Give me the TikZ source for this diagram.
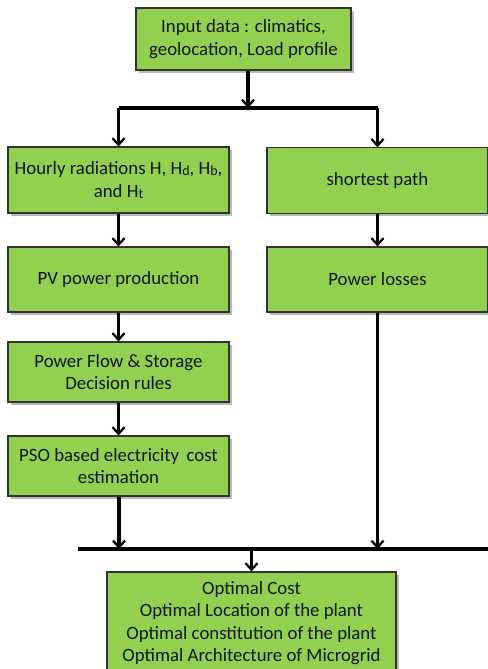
\documentclass[tikz,border=0pt]{standalone}
\usepackage{fontspec}
\setmainfont{Carlito}
\usetikzlibrary{arrows.meta,shadows}
\definecolor{boxgreen}{HTML}{92D050}
\newcommand{\sbs}[1]{\raisebox{-0.7pt}{\fontsize{10.5}{10.5}\selectfont #1}}
\begin{document}
\begin{tikzpicture}[x=0.75pt,y=-0.75pt,
  box/.style={draw=black!80, line width=0.8pt, fill=boxgreen,
    drop shadow={shadow xshift=2pt,shadow yshift=-2pt,fill=black!50,opacity=0.55},
    align=center, inner sep=0pt, text=black!92,
    font=\fontsize{14.1}{16.8}\selectfont},
  conn/.style={line width=2.3pt, -{Straight Barb[length=5pt,width=9pt,line width=1.7pt]}},
  bar/.style={line width=2.3pt}]
\useasboundingbox (0,0) rectangle (488,669);
\clip (0,0) rectangle (488,669);

\node[box, minimum width=161.25pt, minimum height=46.5pt] (top) at (243.5,39)
  {Input data : climatics,\\ geolocation, Load profile};
\node[box, minimum width=165.75pt, minimum height=49.5pt] (hr) at (118.5,180)
  {Hourly radiations H, H\sbs{d}, H\sbs{b},\\ and H\sbs{t}};
\node[box, minimum width=165.75pt, minimum height=49pt] (sp) at (377.5,180.5)
  {shortest path};
\node[box, minimum width=165.75pt, minimum height=48.75pt] (pv) at (118.5,279.5)
  {PV power production};
\node[box, minimum width=165.75pt, minimum height=48.75pt] (pl) at (377.5,279.5)
  {Power losses};
\node[box, minimum width=165.75pt, minimum height=45pt] (pf) at (118.5,372)
  {Power Flow \& Storage\\ Decision rules};
\node[box, minimum width=165.75pt, minimum height=45pt] (pso) at (118.5,466)
  {PSO based electricity\, cost\\ estimation};
\node[box, minimum width=216.75pt, minimum height=76.5pt] (fin) at (251.5,623)
  {Optimal Cost\\ Optimal Location of the plant\\ Optimal constitution of the plant\\ Optimal Architecture of Microgrid};

\coordinate (jt) at (248,108);
\coordinate (bl) at (118.5,108);
\coordinate (br) at (377.5,108);
\coordinate (b2l) at (78,549);
\coordinate (b2r) at (488,549);
\coordinate (jl) at (119,549);
\coordinate (jr) at (377.5,549);
\coordinate (jf) at (251.5,549);

\draw[conn] (top.south -| jt) -- (jt);
\draw[bar] (bl) -- (br);
\draw[conn] (bl) -- (hr.north);
\draw[conn] (br) -- (sp.north);
\draw[conn] (hr) -- (pv);
\draw[conn] (sp) -- (pl);
\draw[conn] (pv) -- (pf);
\draw[conn] (pf) -- (pso);
\draw[conn] (pso.south -| jl) -- (jl);
\draw[conn] (pl.south) -- (jr);
\draw[bar] (b2l) -- (b2r);
\draw[conn] (jf) -- (fin.north);
\end{tikzpicture}
\end{document}
